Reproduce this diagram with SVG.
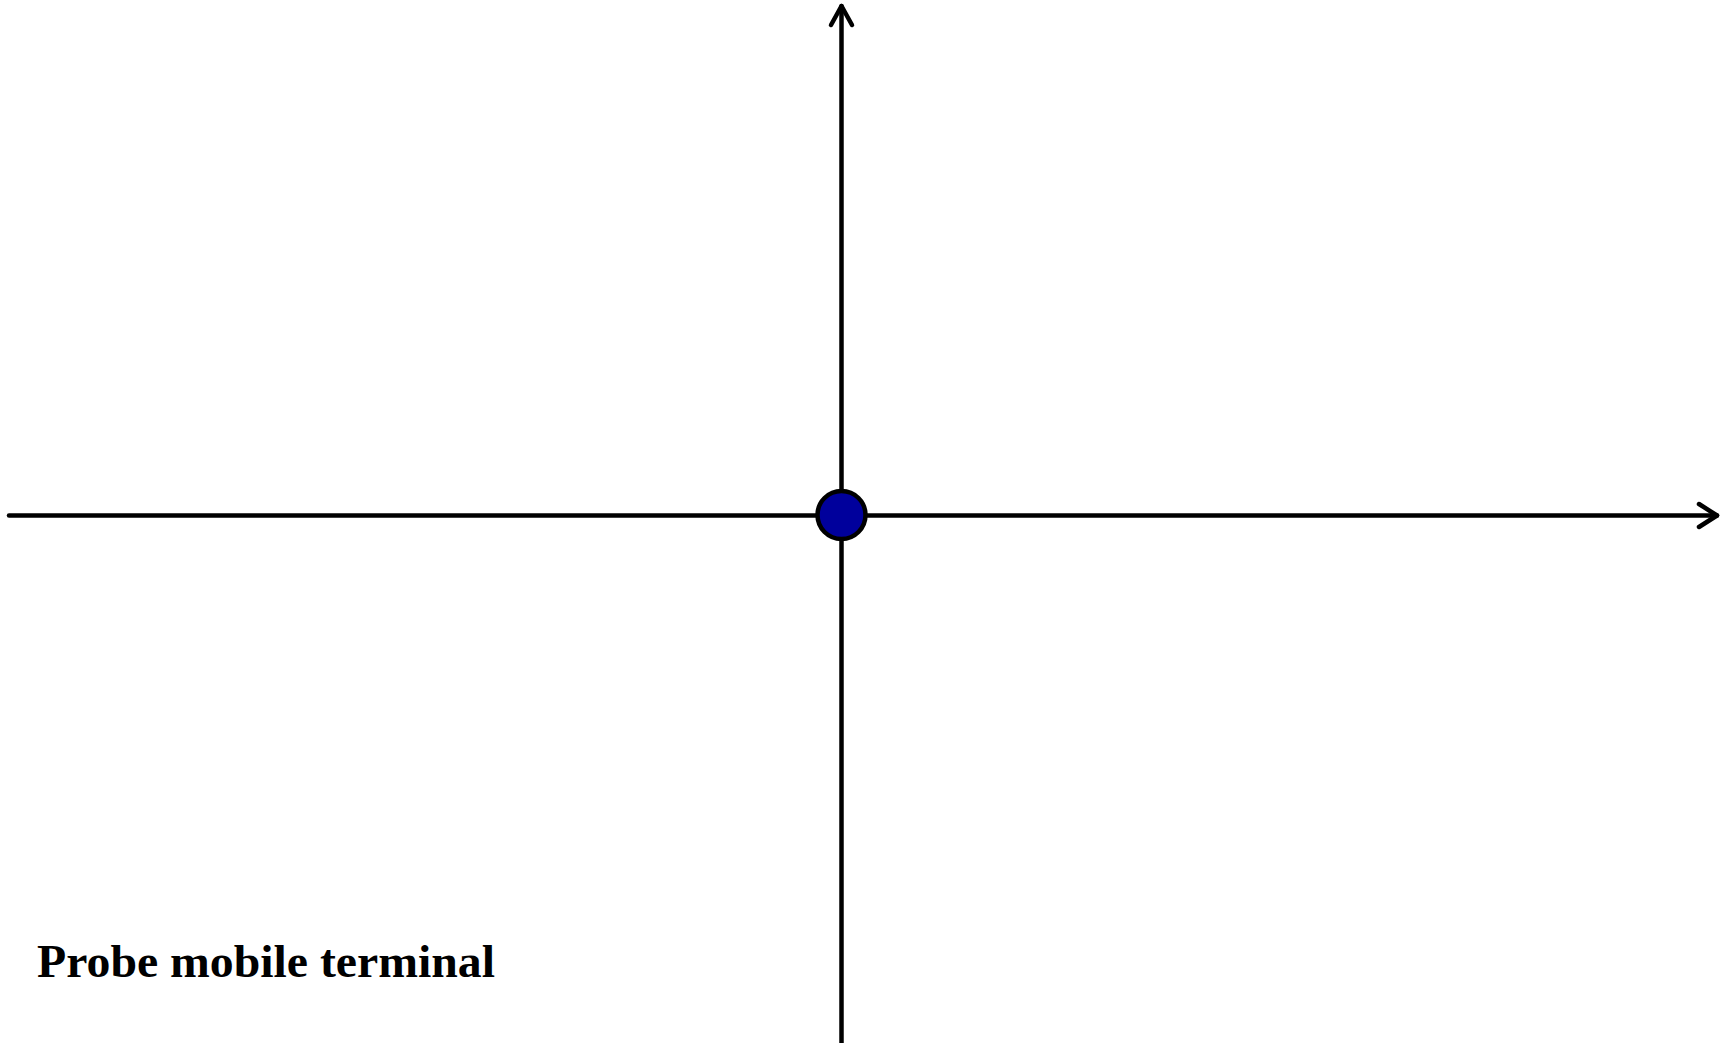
<svg xmlns="http://www.w3.org/2000/svg" width="1720" height="1043" viewBox="0 0 1720 1043">
  <style>
    .axis { stroke: #000; stroke-width: 4.5; fill: none; stroke-linecap: round; stroke-linejoin: round; }
    .label { font-family: "Liberation Serif", "Times New Roman", serif; font-weight: bold; fill: #000; }
  </style>
  <rect width="1720" height="1043" fill="#fff"/>
  <g id="connectors">
    <line class="axis" x1="841.5" y1="1043" x2="841.5" y2="6"/>
    <polyline class="axis" points="831,25 841.5,6 852,25"/>
    <line class="axis" x1="9" y1="515.5" x2="1717" y2="515.5"/>
    <polyline class="axis" points="1699,504 1717,515.5 1699,527"/>
  </g>
  <g id="origin">
    <circle cx="841.5" cy="515" r="24" fill="#00009C" stroke="#000" stroke-width="4.5"/>
  </g>
  <g id="title">
    <text class="label" x="37" y="977" font-size="46" textLength="458" lengthAdjust="spacingAndGlyphs">Probe mobile terminal</text>
  </g>
</svg>
